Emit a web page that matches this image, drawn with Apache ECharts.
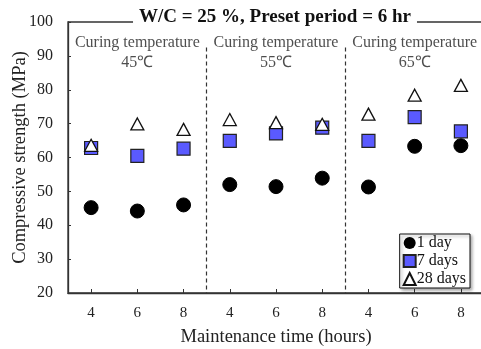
<!DOCTYPE html>
<html>
<head>
<meta charset="utf-8">
<script src="https://cdn.jsdelivr.net/npm/echarts@6/dist/echarts.min.js"></script>
<style>html,body{margin:0;padding:0;background:#fff}#c{width:481px;height:349px}</style>
</head>
<body>
<div id="c"></div>
<script>
var categories = ['4','6','8','4','6','8','4','6','8'];
var day1 = [45.2, 44.2, 46.0, 52.0, 51.4, 53.9, 51.3, 63.3, 63.5];
var day7 = [62.8, 60.5, 62.6, 64.9, 67.1, 68.8, 64.9, 71.9, 67.7];
var day28 = [63.6, 69.9, 68.3, 71.2, 70.3, 69.8, 72.8, 78.4, 81.3];
var groupTitles = ['Curing temperature', 'Curing temperature', 'Curing temperature'];
var groupTemps = ['45\u2103', '55\u2103', '65\u2103'];
var groupCenters = [1.5, 4.5, 7.5];
var dividers = [3, 6];
var seriesNames = ['1 day', '7 days', '28 days'];
var titleText = 'W/C = 25 %, Preset period = 6 hr';
var xName = 'Maintenance time (hours)';
var yName = 'Compressive strength (MPa)';

var FONT = '"Liberation Serif", "Times New Roman", serif';
function pts(arr){ return arr.map(function(v,i){ return [i, v]; }); }

var chart = echarts.init(document.getElementById('c'), null, {renderer:'canvas'});
chart.setOption({
  animation: false,
  backgroundColor: '#fff',
  textStyle: {fontFamily: FONT, color: '#222'},
  title: {
    text: titleText,
    left: 269, top: 8, textAlign: 'center',
    backgroundColor: '#fff',
    padding: [0, 6],
    textStyle: {fontFamily: FONT, fontWeight: 'bold', fontSize: 19, color: '#111'}
  },
  grid: {left: 68, top: 22, width: 416, height: 271, containLabel: false, outerBoundsMode: 'none',
         show: true, borderColor: '#333', borderWidth: 1.3, backgroundColor: 'transparent'},
  legend: {
    orient: 'vertical', right: 11, top: 234,
    itemWidth: 12, itemHeight: 12, itemGap: 2,
    padding: [1, 4, 1, 3],
    borderColor: '#111', borderWidth: 1,
    backgroundColor: '#fff',
    shadowColor: 'rgba(0,0,0,0.35)', shadowBlur: 3, shadowOffsetX: 2, shadowOffsetY: 2,
    textStyle: {fontFamily: FONT, fontSize: 16, color: '#111', padding: [0,0,0,-4], lineHeight: 15},
    data: seriesNames
  },
  xAxis: [{
    type: 'category', data: categories, boundaryGap: true,
    name: xName, nameLocation: 'middle', nameGap: 35, nameMoveOverlap: false,
    nameTextStyle: {fontFamily: FONT, fontSize: 18.5, color: '#222'},
    axisLine: {lineStyle: {color: '#333', width: 1.3}},
    axisTick: {show: true, inside: true, length: 4, alignWithLabel: true, lineStyle: {color: '#333'}},
    axisLabel: {fontFamily: FONT, fontSize: 15, color: '#222', margin: 13},
    splitLine: {show: false}
  }, {
    type: 'value', min: 0, max: 9, show: false, splitLine: {show: false}
  }],
  yAxis: {
    type: 'value', min: 20, max: 100, interval: 10,
    name: yName, nameLocation: 'middle', nameGap: 38, nameMoveOverlap: false,
    nameTextStyle: {fontFamily: FONT, fontSize: 18.5, color: '#222'},
    axisLine: {show: true, lineStyle: {color: '#333', width: 1.3}},
    axisTick: {show: true, inside: true, length: 3, lineStyle: {color: '#333'}},
    axisLabel: {fontFamily: FONT, fontSize: 16, color: '#222', margin: 15},
    splitLine: {show: false}
  },
  series: [{
    name: seriesNames[0], type: 'scatter', xAxisIndex: 0, data: pts(day1),
    symbol: 'circle', symbolSize: 14,
    itemStyle: {color: '#000', borderColor: '#000', opacity: 1}, z: 3
  }, {
    name: seriesNames[1], type: 'scatter', xAxisIndex: 0, data: pts(day7),
    symbol: 'rect', symbolSize: 13,
    itemStyle: {color: '#5a5aff', borderColor: '#222', borderWidth: 1.2, opacity: 1}, z: 4
  }, {
    name: seriesNames[2], type: 'scatter', xAxisIndex: 0, data: pts(day28),
    symbol: 'triangle', symbolSize: [13, 12],
    itemStyle: {color: '#fff', borderColor: '#111', borderWidth: 1.3, opacity: 1}, z: 5
  }, {
    name: 'groups', type: 'scatter', xAxisIndex: 1, silent: true,
    symbolSize: 0,
    data: groupCenters.map(function(x, i){ return {value: [x, 90.8], t: groupTitles[i], c: groupTemps[i]}; }),
    label: {
      show: true, position: 'inside',
      fontFamily: FONT, fontSize: 16, color: '#222', lineHeight: 20, align: 'center',
      formatter: function(p){ return p.data.t + '\n' + p.data.c; }
    },
    markLine: {
      silent: true, symbol: 'none',
      lineStyle: {color: '#333', type: [4, 3], width: 1.2},
      label: {show: false},
      data: dividers.map(function(d){ return [{coord: [d, 92.5]}, {coord: [d, 20]}]; })
    }
  }]
});
</script>
</body>
</html>
